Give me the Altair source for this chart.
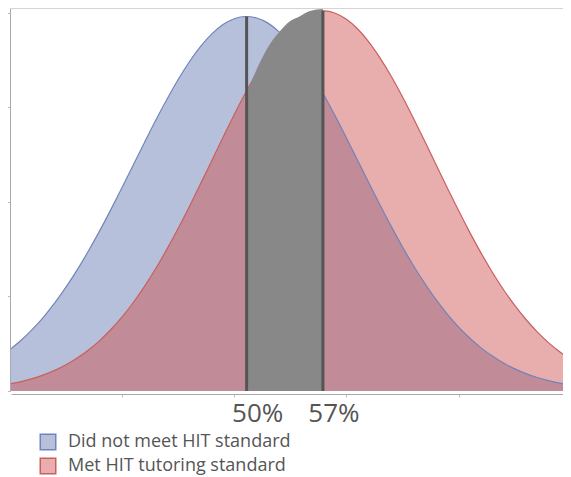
import altair as alt
import pandas as pd

# ---- data ----
series_names = ["Did not meet HIT standard", "Met HIT tutoring standard"]

x_grid = list(range(30, 81))

blue_density = [
    0.00437, 0.00536, 0.00651, 0.00782, 0.00931, 0.01098, 0.01281, 0.01480, 0.01693, 0.01918,
    0.02152, 0.02390, 0.02628, 0.02862, 0.03085, 0.03294, 0.03482, 0.03644, 0.03776, 0.03875,
    0.03936, 0.03960, 0.03944, 0.03890, 0.03798, 0.03673, 0.03516, 0.03333, 0.03128, 0.02907,
    0.02675, 0.02438, 0.02199, 0.01965, 0.01738, 0.01521, 0.01319, 0.01133, 0.00963, 0.00811,
    0.00676, 0.00558, 0.00456, 0.00369, 0.00295, 0.00234, 0.00184, 0.00143, 0.00110, 0.00084,
    0.00063,
]

red_density = [
    0.00076, 0.00100, 0.00131, 0.00170, 0.00218, 0.00277, 0.00348, 0.00433, 0.00533, 0.00650,
    0.00784, 0.00936, 0.01107, 0.01295, 0.01500, 0.01720, 0.01952, 0.02193, 0.02438, 0.02684,
    0.02924, 0.03153, 0.03366, 0.03557, 0.03720, 0.03851, 0.03947, 0.04004, 0.04020, 0.03995,
    0.03931, 0.03828, 0.03690, 0.03520, 0.03325, 0.03108, 0.02876, 0.02635, 0.02389, 0.02144,
    0.01905, 0.01675, 0.01458, 0.01256, 0.01071, 0.00905, 0.00756, 0.00625, 0.00512, 0.00415,
    0.00333,
]

gray_x = [51.12, 52.28, 53.17, 54.06, 54.96, 55.85, 56.74, 57.90]
gray_top = [0.03146, 0.03475, 0.03667, 0.03805, 0.03911, 0.03964, 0.04018, 0.04039]

mean_x = [51.1, 57.9]
mean_top = [0.0396, 0.0402]
mean_labels = ["50%", "57%"]

x_ticks = [40, 50, 60, 70]
y_ticks = [0, 0.01, 0.02, 0.03, 0.04]

# ---- tables ----
df_curves = pd.concat([
    pd.DataFrame({"x": x_grid, "y": blue_density, "series": series_names[0]}),
    pd.DataFrame({"x": x_grid, "y": red_density, "series": series_names[1]}),
], ignore_index=True)
df_overlap = pd.DataFrame({"x": x_grid,
                           "y": [min(b, r) for b, r in zip(blue_density, red_density)]})
df_gray = pd.DataFrame({"x": gray_x, "y": gray_top})
df_means = pd.DataFrame({"x": mean_x, "top": mean_top, "label": mean_labels})

W, H = 552, 383
x_scale = alt.Scale(domain=[30.1, 30.1 + W / 11.22], nice=False, zero=False)
y_scale = alt.Scale(domain=[0, 0.0405], nice=False)
FONT = "Open Sans"
TXT = "#555555"

x_enc = alt.X("x:Q", scale=x_scale,
              axis=alt.Axis(values=x_ticks, labels=False, title=None, grid=False,
                            offset=3, tickSize=3, domainColor="#aaaaaa", tickColor="#bbbbbb"))
y_enc = alt.Y("y:Q", scale=y_scale, stack=None,
              axis=alt.Axis(values=y_ticks, labels=False, title=None, grid=False,
                            offset=1, tickSize=3, domainColor="#aaaaaa", tickColor="#bbbbbb"))

areas = alt.Chart(df_curves).mark_area(opacity=1, interpolate="monotone", clip=True).encode(
    x=x_enc,
    y=y_enc,
    color=alt.Color("series:N",
                    scale=alt.Scale(domain=series_names, range=["#b7c0db", "#e8adad"]),
                    legend=alt.Legend(title=None, orient="none", legendX=28, legendY=425,
                                      symbolType="square", symbolSize=240,
                                      symbolStrokeColor="#555555", symbolStrokeWidth=1.5,
                                      symbolOpacity=1, labelFont=FONT, labelFontSize=18,
                                      labelColor=TXT, labelOffset=11, rowPadding=2,
                                      labelLimit=400, padding=0)),
)

overlap = alt.Chart(df_overlap).mark_area(color="#c18b97", opacity=1,
                                          interpolate="monotone", clip=True).encode(
    x=alt.X("x:Q", scale=x_scale),
    y=alt.Y("y:Q", scale=y_scale),
)

outlines = alt.Chart(df_curves).mark_line(interpolate="monotone", strokeWidth=1.2,
                                          clip=True).encode(
    x=alt.X("x:Q", scale=x_scale),
    y=alt.Y("y:Q", scale=y_scale),
    detail="series:N",
    stroke=alt.Stroke("series:N",
                      scale=alt.Scale(domain=series_names, range=["#7283bb", "#c9605e"]),
                      legend=None),
)

gray = alt.Chart(df_gray).mark_area(color="#888888", opacity=1, interpolate="monotone").encode(
    x=alt.X("x:Q", scale=x_scale),
    y=alt.Y("y:Q", scale=y_scale),
)

rules = alt.Chart(df_means).mark_rule(color="#555555", strokeWidth=3).encode(
    x=alt.X("x:Q", scale=x_scale),
    y=alt.Y("top:Q", scale=y_scale),
    y2=alt.datum(0),
)

labels = alt.Chart(df_means).mark_text(
    font=FONT, fontSize=26, color=TXT, dx=11, baseline="alphabetic", align="center"
).encode(
    x=alt.X("x:Q", scale=x_scale),
    y=alt.value(414),
    text="label:N",
)

top_border = alt.Chart(pd.DataFrame({"a": [0]})).mark_rule(color="#aaaaaa", strokeWidth=1).encode(
    x=alt.value(0), x2=alt.value(W), y=alt.value(0)
)

chart = alt.layer(areas, overlap, outlines, gray, rules, labels, top_border).properties(
    width=W, height=H,
    autosize=alt.AutoSizeParams(type="none"),
    padding={"left": 3, "top": 0, "right": 0, "bottom": 86},
).configure_view(stroke=None)

chart.save("out.html", embed_options={"renderer": "svg", "actions": False})
